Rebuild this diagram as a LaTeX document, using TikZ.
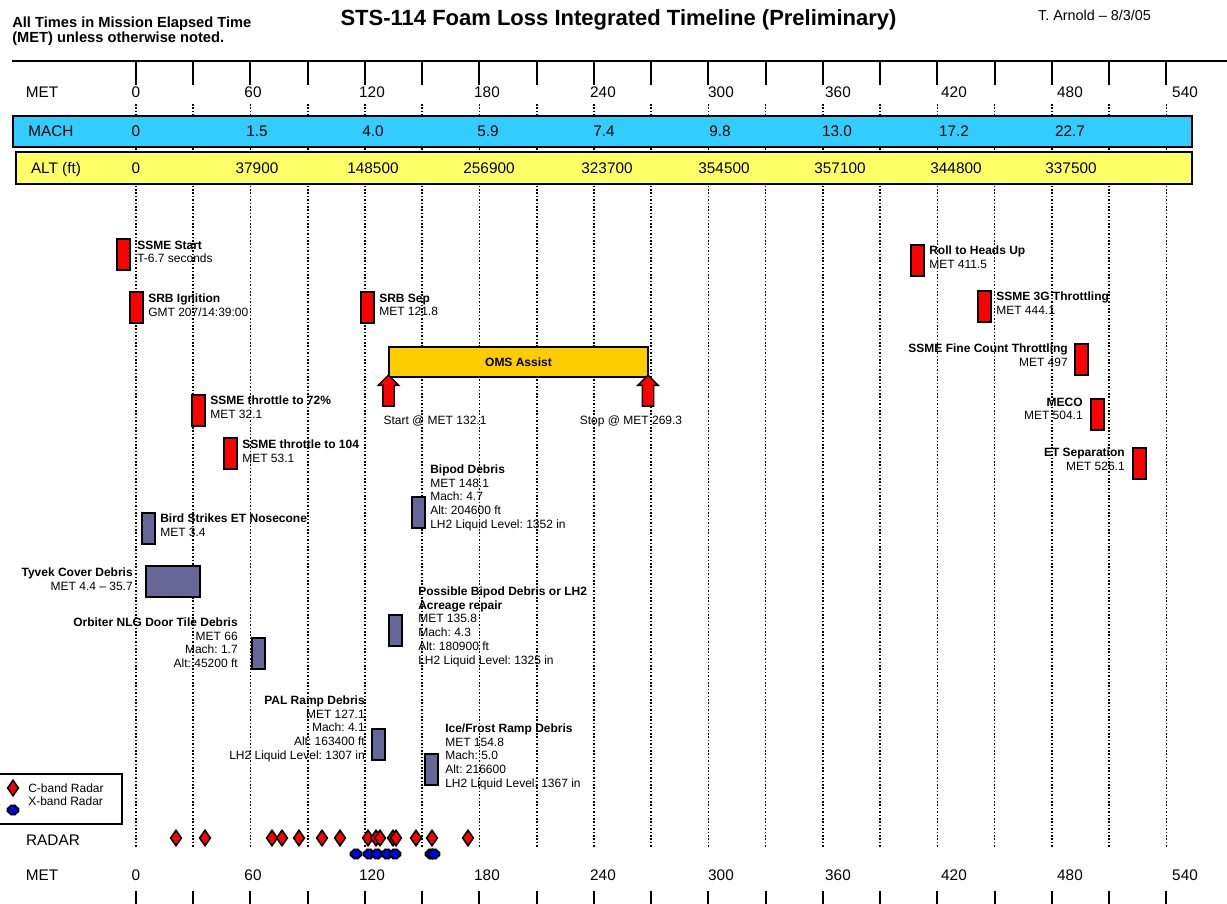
\documentclass[tikz,border=0pt]{standalone}
\usepackage{fontspec}
\setmainfont{Liberation Sans}
\usepackage{tikz}
\usetikzlibrary{shapes.geometric,shapes.arrows}
\definecolor{machBlue}{HTML}{33CCFF}
\definecolor{altYellow}{HTML}{FFFF66}
\definecolor{omsGold}{HTML}{FFCC00}
\definecolor{debrisSlate}{HTML}{666699}
\definecolor{eventRed}{HTML}{FF0000}
\definecolor{xbandBlue}{HTML}{0000FF}
\frenchspacing

\begin{document}
\begin{tikzpicture}[x=0.75pt, y=-0.75pt,
    axis/.style={font=\fontsize{11.5}{13}\selectfont, inner sep=0pt, text height=8.2pt, text depth=0pt},
    band/.style={draw, line width=1.5pt, fill=#1},
    evt/.style={draw, line width=1.5pt, fill=eventRed, minimum width=9.75pt, minimum height=23.25pt, inner sep=0pt},
    debris/.style={evt, fill=debrisSlate},
    note/.style={font=\fontsize{9}{10.3}\selectfont, inner sep=0pt, align=left, anchor=north west},
    noteR/.style={note, align=right, anchor=north east},
    lbl/.style={font=\fontsize{9}{10.3}\selectfont, inner sep=0pt, text height=6.45pt, text depth=0pt},
    grid/.style={line width=1.25pt, dash pattern=on 1.25pt off 1.3pt},
    tick/.style={line width=1.5pt},
    push/.style={single arrow, draw, line width=1.1pt, fill=eventRed, shape border rotate=90, minimum height=23.25pt, inner sep=3.75pt, single arrow head extend=3.4pt, single arrow head indent=0pt},
    cband/.style={diamond, draw, line width=1.2pt, fill=eventRed, minimum width=8.5pt, minimum height=12pt, inner sep=0pt},
    xband/.pic={\filldraw[line width=1.2pt, fill=xbandBlue, rounded corners=1pt] (-5.5,-2.6) -- (-2.6,-2.6) -- (-2.6,-4.5) -- (2.6,-4.5) -- (2.6,-2.6) -- (5.5,-2.6) -- (5.5,2.6) -- (2.6,2.6) -- (2.6,4.5) -- (-2.6,4.5) -- (-2.6,2.6) -- (-5.5,2.6) -- cycle;},
  ]
  \useasboundingbox (0,0) rectangle (1227,903);

  % Header
  \node[font=\fontsize{11}{11.25}\selectfont\bfseries, inner sep=0pt, align=left, anchor=north west] (metNote) at (12,16.6) {All Times in Mission Elapsed Time\\(MET) unless otherwise noted.};
  \node[font=\fontsize{16.5}{18}\selectfont\bfseries, inner sep=0pt, text height=11.8pt, text depth=0pt] (title) at (618.5,17.5) {STS-114 Foam Loss Integrated Timeline (Preliminary)};
  \node[font=\fontsize{10.8}{12}\selectfont, inner sep=0pt, text height=7.7pt, text depth=0pt] (author) at (1094.5,15.5) {T. Arnold – 8/3/05};

  % MET grid and ticks
  \draw[tick] (12,61) -- (1227,61);
  \foreach \t in {0,30,...,540} {
    \draw[grid] ({136+1.908*\t},104) -- ({136+1.908*\t},848);
    \draw[tick] ({136+1.908*\t},61) -- ({136+1.908*\t},85);
    \draw[tick] ({136+1.908*\t},891) -- ({136+1.908*\t},905);
  }

  % MET / MACH / ALT rows
  \draw[band=machBlue] (13,116) rectangle (1192,147);
  \draw[band=altYellow] (16,152) rectangle (1192,184);
  \node[axis] (metTop) at (42,92) {MET};
  \node[axis] (machRow) at (51,131.5) {MACH};
  \node[axis] (altRow) at (56,168) {ALT (ft)};
  \foreach \x/\v [count=\i] in {136/0,253/60,372/120,487/180,603/240,721/300,838/360,954/420,1070/480,1185/540} {
    \node[axis] (metT\i) at (\x,92) {\v};
    \node[axis] (metB\i) at (\x,875) {\v};
  }
  \foreach \x/\v [count=\i] in {136/0,257/1.5,373/4.0,488/5.9,604/7.4,720/9.8,837/13.0,954/17.2,1070/22.7}
    \node[axis] (mach\i) at (\x,131.5) {\v};
  \foreach \x/\v [count=\i] in {136/0,257/37900,373/148500,489/256900,607/323700,724/354500,840/357100,956/344800,1071/337500}
    \node[axis] (alt\i) at (\x,168) {\v};

  % Ascent events
  \node[evt] (ssmeStart) at (123,254.5) {};
  \node[note] (ssmeStartL) at (137,240.5) {\textbf{SSME Start}\\T-6.7 seconds};
  \node[evt] (srbIgn) at (136,307) {};
  \node[note] (srbIgnL) at (148,293.5) {\textbf{SRB Ignition}\\GMT 207/14:39:00};
  \node[evt] (srbSep) at (367,307) {};
  \node[note] (srbSepL) at (379,293.5) {\textbf{SRB Sep}\\MET 121.8};
  \node[evt] (thr72) at (198,410) {};
  \node[note] (thr72L) at (210,395.5) {\textbf{SSME throttle to 72\%}\\MET 32.1};
  \node[evt] (thr104) at (230,453) {};
  \node[note] (thr104L) at (242,439.5) {\textbf{SSME throttle to 104}\\MET 53.1};
  \node[evt] (roll) at (917,260) {};
  \node[note] (rollL) at (929,245.5) {\textbf{Roll to Heads Up}\\MET 411.5};
  \node[evt] (thr3g) at (984,306) {};
  \node[note] (thr3gL) at (996,291.5) {\textbf{SSME 3G Throttling}\\MET 444.1};
  \node[evt] (fineCount) at (1081.5,359.5) {};
  \node[noteR] (fineCountL) at (1068,343.5) {\textbf{SSME Fine Count Throttling}\\MET 497};
  \node[evt] (meco) at (1097.5,414) {};
  \node[noteR] (mecoL) at (1083,397.5) {\textbf{MECO}\\MET 504.1};
  \node[evt] (etSep) at (1139,463) {};
  \node[noteR] (etSepL) at (1125,447.5) {\textbf{ET Separation}\\MET 526.1};

  % OMS assist
  \node[draw, line width=1.5pt, fill=omsGold, minimum width=194.25pt, minimum height=22.5pt, inner sep=0pt, font=\fontsize{9}{10}\selectfont\bfseries] (oms) at (518.5,362) {OMS Assist};
  \node[push] (omsStart) at (388.5,393.5) {};
  \node[push] (omsStop) at (648,393.5) {};
  \node[lbl] (omsStartL) at (435,420) {Start @ MET 132.1};
  \node[lbl] (omsStopL) at (631,420) {Stop @ MET 269.3};

  % Debris events
  \node[debris] (bird) at (148.5,528) {};
  \node[note] (birdL) at (160,513.5) {\textbf{Bird Strikes ET Nosecone}\\MET 3.4};
  \node[debris, minimum width=40.5pt] (tyvek) at (172.5,581) {};
  \node[noteR] (tyvekL) at (133,567.5) {\textbf{Tyvek Cover Debris}\\MET 4.4 – 35.7};
  \node[debris] (nlg) at (258,653) {};
  \node[noteR] (nlgL) at (238,617.5) {\textbf{Orbiter NLG Door Tile Debris}\\MET 66\\Mach: 1.7\\Alt: 45200 ft};
  \node[debris] (bipod) at (418,512) {};
  \node[note] (bipodL) at (430,464.5) {\textbf{Bipod Debris}\\MET 148.1\\Mach: 4.7\\Alt: 204600 ft\\LH2 Liquid Level: 1352 in};
  \node[debris] (acreage) at (395.5,630.5) {};
  \node[note] (acreageL) at (418,586.5) {\textbf{Possible Bipod Debris or LH2}\\\textbf{Acreage repair}\\MET 135.8\\Mach: 4.3\\Alt: 180900 ft\\LH2 Liquid Level: 1325 in};
  \node[debris] (pal) at (378,744) {};
  \node[noteR] (palL) at (365,695.5) {\textbf{PAL Ramp Debris}\\MET 127.1\\Mach: 4.1\\Alt: 163400 ft\\LH2 Liquid Level: 1307 in};
  \node[debris] (iceFrost) at (431,769.5) {};
  \node[note] (iceFrostL) at (445,723.5) {\textbf{Ice/Frost Ramp Debris}\\MET 154.8\\Mach: 5.0\\Alt: 216600\\LH2 Liquid Level: 1367 in};

  % Legend
  \draw[line width=1.5pt] (-3,774) rectangle (122,824);
  \node[cband] (legC) at (13,788) {};
  \pic (legX) at (13,810) {xband};
  \node[lbl, anchor=west] (legCL) at (28,788) {C-band Radar};
  \node[lbl, anchor=west] (legXL) at (28,801) {X-band Radar};

  % Radar coverage
  \node[axis] (radar) at (53,840) {RADAR};
  \foreach \x [count=\i] in {176,205,272,282,299,322,340,368,376,380,393,396,416,432,468}
    \node[cband] (cb\i) at (\x,838) {};
  \foreach \x [count=\i] in {356,369,377,387,395,431,434}
    \pic (xb\i) at (\x,854) {xband};
  \node[axis] (metBot) at (42,875) {MET};
\end{tikzpicture}
\end{document}
